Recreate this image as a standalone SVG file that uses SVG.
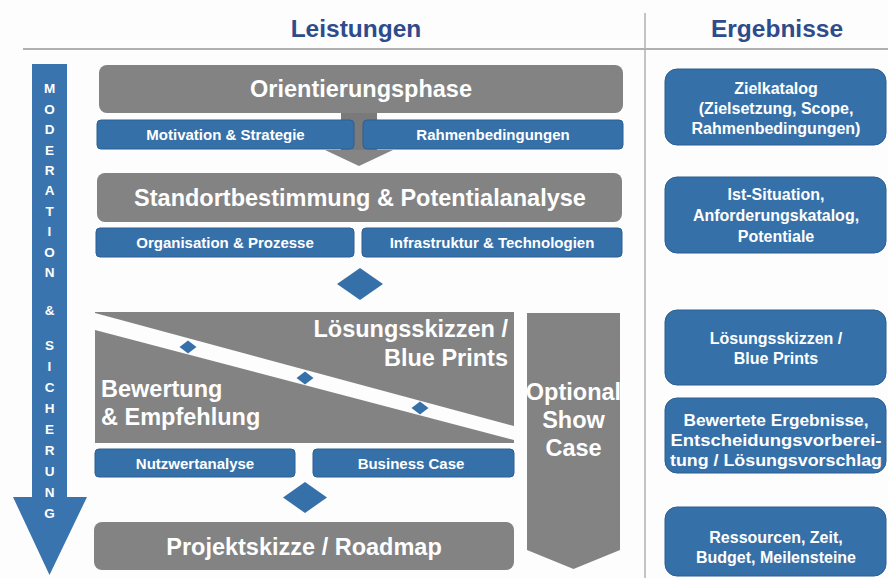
<svg xmlns="http://www.w3.org/2000/svg" width="888" height="578" viewBox="0 0 888 578">
<defs>
<style>
.hdr{font-family:"Liberation Sans",Arial,sans-serif;font-weight:bold;font-size:24.5px;fill:#2e4b8b;text-anchor:middle}
.big{font-family:"Liberation Sans",Arial,sans-serif;font-weight:bold;font-size:23.5px;fill:#ffffff}
.sub{font-family:"Liberation Sans",Arial,sans-serif;font-weight:bold;font-size:15px;fill:#ffffff;text-anchor:middle}
.res{font-family:"Liberation Sans",Arial,sans-serif;font-weight:bold;font-size:16px;fill:#ffffff;text-anchor:middle}
.mod{font-family:"Liberation Sans",Arial,sans-serif;font-weight:bold;font-size:13.5px;fill:#ffffff;text-anchor:middle}
.grey{fill:#838383}
.blue{fill:#3670a9;stroke:#2b5e93;stroke-width:1}
.dia{fill:#3670a9}
.rule{stroke:#b0b0b0;fill:none}
</style>
</defs>
<rect x="0" y="0" width="888" height="578" fill="#fdfdfd"/>

<g id="headers">
<line class="rule" x1="23" y1="49" x2="888" y2="49" stroke-width="2"/>
<line class="rule" x1="645" y1="13" x2="645" y2="578" stroke-width="1.5"/>
<text class="hdr" x="356" y="37">Leistungen</text>
<text class="hdr" x="777" y="37">Ergebnisse</text>
</g>

<g id="moderation">
<polygon points="32,64 67,64 67,497 87,497 49.5,575 13,497 32,497" fill="#3a74ae"/>
<text class="mod" x="49.5" y="93">M</text>
<text class="mod" x="49.5" y="113.5">O</text>
<text class="mod" x="49.5" y="134">D</text>
<text class="mod" x="49.5" y="154.5">E</text>
<text class="mod" x="49.5" y="174.5">R</text>
<text class="mod" x="49.5" y="195">A</text>
<text class="mod" x="49.5" y="215.5">T</text>
<text class="mod" x="49.5" y="236">I</text>
<text class="mod" x="49.5" y="256.5">O</text>
<text class="mod" x="49.5" y="276.5">N</text>
<text class="mod" x="49.5" y="315">&amp;</text>
<text class="mod" x="49.5" y="350">S</text>
<text class="mod" x="49.5" y="371">I</text>
<text class="mod" x="49.5" y="392">C</text>
<text class="mod" x="49.5" y="413">H</text>
<text class="mod" x="49.5" y="434">E</text>
<text class="mod" x="49.5" y="455">R</text>
<text class="mod" x="49.5" y="476">U</text>
<text class="mod" x="49.5" y="497">N</text>
<text class="mod" x="49.5" y="518">G</text>
</g>

<g id="connectors">
<rect x="341" y="110" width="36" height="42" fill="#7a7a7a"/>
<polygon points="325,150 393,150 359,166" fill="#858585"/>
<polygon class="dia" points="360,268 383,284 360,300 337,284"/>
<polygon class="dia" points="305,482 327,497.5 305,513 283,497.5"/>
</g>

<g id="orientierung">
<rect class="grey" x="99" y="65" width="524" height="48" rx="8"/>
<text class="big" x="361" y="97" text-anchor="middle">Orientierungsphase</text>
</g>
<g id="motivation">
<rect class="blue" x="97" y="120" width="257" height="29" rx="4"/>
<text class="sub" x="225.5" y="140">Motivation &amp; Strategie</text>
</g>
<g id="rahmen">
<rect class="blue" x="363" y="120" width="260" height="29" rx="4"/>
<text class="sub" x="493" y="140">Rahmenbedingungen</text>
</g>

<g id="standort">
<rect class="grey" x="97" y="173" width="525" height="49" rx="8"/>
<text class="big" x="360" y="206" text-anchor="middle">Standortbestimmung &amp; Potentialanalyse</text>
</g>
<g id="organisation">
<rect class="blue" x="96" y="228" width="258" height="29" rx="4"/>
<text class="sub" x="225" y="248">Organisation &amp; Prozesse</text>
</g>
<g id="infrastruktur">
<rect class="blue" x="362" y="228" width="260" height="29" rx="4"/>
<text class="sub" x="492" y="248">Infrastruktur &amp; Technologien</text>
</g>

<g id="loesung">
<polygon class="grey" points="95,312 514,312 514,426 95,313"/>
<text class="big" x="508" y="337" text-anchor="end">Lösungsskizzen /</text>
<text class="big" x="508" y="366" text-anchor="end">Blue Prints</text>
</g>
<g id="bewertung">
<polygon class="grey" points="95,330 514,440 514,443 95,443"/>
<text class="big" x="101" y="397">Bewertung</text>
<text class="big" x="101" y="425">&amp; Empfehlung</text>
</g>
<g id="band-markers">
<polygon class="dia" points="188,340.5 196.5,347 188,353.5 179.5,347"/>
<polygon class="dia" points="305,371.5 313.5,378 305,384.5 296.5,378"/>
<polygon class="dia" points="420,401.5 428.5,408 420,414.5 411.5,408"/>
</g>

<g id="nutzwert">
<rect class="blue" x="95" y="449" width="200" height="28" rx="4"/>
<text class="sub" x="195" y="468.5">Nutzwertanalyse</text>
</g>
<g id="business">
<rect class="blue" x="313" y="449" width="201" height="28" rx="4"/>
<text class="sub" x="411" y="468.5">Business Case</text>
</g>

<g id="projekt">
<rect class="grey" x="94" y="522" width="420" height="48" rx="8"/>
<text class="big" x="304" y="555" text-anchor="middle">Projektskizze / Roadmap</text>
</g>

<g id="showcase">
<polygon class="grey" points="527,313 620,313 620,550 573.5,569 527,550"/>
<text class="big" x="573.5" y="400" text-anchor="middle" font-size="20.5">Optional</text>
<text class="big" x="573.5" y="428" text-anchor="middle" font-size="22">Show</text>
<text class="big" x="573.5" y="456" text-anchor="middle" font-size="22">Case</text>
</g>

<g id="res-ziel">
<rect class="blue" x="665" y="69" width="221" height="76" rx="12"/>
<text class="res" x="776" y="93.5">Zielkatalog</text>
<text class="res" x="776" y="113.5">(Zielsetzung, Scope,</text>
<text class="res" x="776" y="133.5">Rahmenbedingungen)</text>
</g>
<g id="res-ist">
<rect class="blue" x="665" y="177" width="221" height="76" rx="12"/>
<text class="res" x="776" y="199.5">Ist-Situation,</text>
<text class="res" x="776" y="220.5">Anforderungskatalog,</text>
<text class="res" x="776" y="241.5">Potentiale</text>
</g>
<g id="res-loesung">
<rect class="blue" x="665" y="310" width="221" height="75" rx="12"/>
<text class="res" x="776" y="343.5">Lösungsskizzen /</text>
<text class="res" x="776" y="363.5">Blue Prints</text>
</g>
<g id="res-bewertet">
<rect class="blue" x="665" y="398" width="221" height="75" rx="12"/>
<text class="res" x="776" y="425.5" textLength="185" lengthAdjust="spacingAndGlyphs">Bewertete Ergebnisse,</text>
<text class="res" x="776" y="445.5" textLength="211" lengthAdjust="spacingAndGlyphs">Entscheidungsvorberei-</text>
<text class="res" x="776" y="465.5" textLength="212" lengthAdjust="spacingAndGlyphs">tung / Lösungsvorschlag</text>
</g>
<g id="res-ressourcen">
<rect class="blue" x="665" y="507" width="221" height="69" rx="12"/>
<text class="res" x="776" y="542.5">Ressourcen, Zeit,</text>
<text class="res" x="776" y="562.5">Budget, Meilensteine</text>
</g>
</svg>
